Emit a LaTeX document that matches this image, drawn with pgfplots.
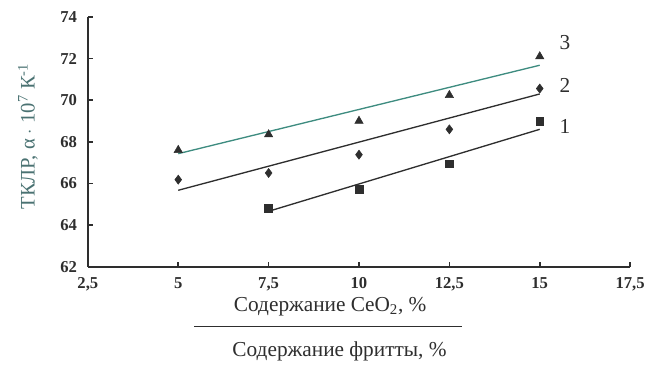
\documentclass[border=0pt]{standalone}
\usepackage{fontspec}
\setmainfont{Liberation Serif}
\usepackage{pgfplots}
\pgfplotsset{compat=1.18}
\usetikzlibrary{calc}
\definecolor{axc}{HTML}{2E2E2E}
\definecolor{tealc}{HTML}{3E8C80}
\definecolor{ylc}{HTML}{4A7272}
\begin{document}
\begin{tikzpicture}
\begin{axis}[
  name=ax,
  scale only axis,
  width=407.25pt, height=187.5pt,
  xmin=2.5, xmax=17.5, ymin=62, ymax=74,
  xtick={2.5,5,7.5,10,12.5,15,17.5},
  xticklabels={{2,5},{5},{7,5},{10},{12,5},{15},{17,5}},
  ytick={62,64,...,74},
  axis x line=bottom, axis y line=left,
  axis line style={axc, line width=1.5pt, -},
  tick align=inside,
  major tick length=3.5pt,
  tick style={axc, line width=1.2pt},
  tick label style={font=\fontsize{12.5}{13}\selectfont\bfseries, text=axc, inner sep=1pt},
  /pgf/number format/assume math mode=true,
  xticklabel style={yshift=-7pt},
  yticklabel style={xshift=-7pt},
  clip=false,
]
% series 3 (triangles)
\addplot[only marks, mark=triangle*, mark size=3.6pt, color=axc] coordinates {
 (5,67.6) (7.5,68.35) (10,69.0) (12.5,70.24) (15,72.1)};
\addplot[tealc, line width=1pt] coordinates {(5,67.43) (15,71.68)};
% series 2 (diamonds)
\addplot[only marks, mark=diamond*, mark size=3.4pt, color=axc] coordinates {
 (5,66.18) (7.5,66.5) (10,67.38) (12.5,68.6) (15,70.56)};
\addplot[axc, line width=1pt] coordinates {(5,65.67) (15,70.3)};
% series 1 (squares)
\addplot[only marks, mark=square*, mark size=2.9pt, color=axc] coordinates {
 (7.5,64.82) (10,65.73) (12.5,66.95) (15,68.98)};
\addplot[axc, line width=1pt] coordinates {(7.5,64.66) (15,68.6)};
\node[font=\fontsize{16}{17}\selectfont, text=axc] at (axis cs:15.7,72.75) {3};
\node[font=\fontsize{16}{17}\selectfont, text=axc] at (axis cs:15.7,70.7) {2};
\node[font=\fontsize{16}{17}\selectfont, text=axc] at (axis cs:15.7,68.75) {1};
\end{axis}
\node[rotate=90, font=\fontsize{15.5}{16}\selectfont, text=ylc] at ($(ax.west)+(-45pt,4pt)$) {ТКЛР, α $\cdot$ 10\textsuperscript{7} К\textsuperscript{-1}};
\node[font=\fontsize{16}{17}\selectfont, text=axc, inner sep=1pt] at ($(ax.south west)+(182pt,-30pt)$) {Содержание CeO\textsubscript{2}, \%};
\draw[axc, line width=1pt] ($(ax.south west)+(80pt,-45pt)$) -- ($(ax.south west)+(281pt,-45pt)$);
\node[font=\fontsize{16}{17}\selectfont, text=axc] at ($(ax.south west)+(189pt,-64pt)$) {Содержание фритты, \%};
\path[use as bounding box] ($(ax.south west)+(-66pt,-71.25pt)$) rectangle ($(ax.north east)+(11.25pt,12.75pt)$);
\end{tikzpicture}
\end{document}
